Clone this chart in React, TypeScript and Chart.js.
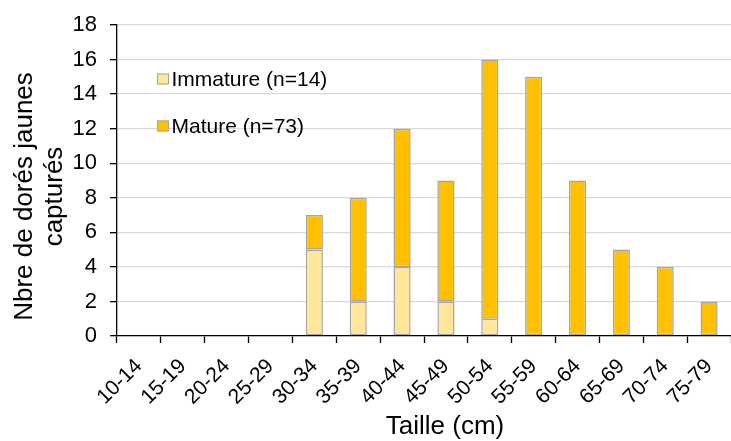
import React, { useEffect, useRef } from "react";
import { Chart, registerables } from "chart.js";

Chart.register(...registerables);

const categories = ["10-14", "15-19", "20-24", "25-29", "30-34", "35-39", "40-44", "45-49", "50-54", "55-59", "60-64", "65-69", "70-74", "75-79"];
const immature = [0, 0, 0, 0, 5, 2, 4, 2, 1, 0, 0, 0, 0, 0];
const mature = [0, 0, 0, 0, 2, 6, 8, 7, 15, 15, 9, 5, 4, 2];
const seriesLabels = ["Immature (n=14)", "Mature (n=73)"];
const seriesColors = ["#FFE699", "#FFC000"];
const yTitle = ["Nbre de dorés jaunes", "capturés"];
const xTitle = "Taille (cm)";

const FONT = "'Liberation Sans', Arial, sans-serif";

const annotationsPlugin = {
  id: "customText",
  afterDraw(chart: any) {
    const ctx = chart.ctx;
    ctx.save();
    // legend
    const items = [
      { label: seriesLabels[0], color: seriesColors[0], y: 79 },
      { label: seriesLabels[1], color: seriesColors[1], y: 126 },
    ];
    ctx.font = `21px ${FONT}`;
    ctx.textBaseline = "middle";
    ctx.textAlign = "left";
    for (const it of items) {
      ctx.fillStyle = it.color;
      ctx.fillRect(157, it.y - 5.5, 12, 11);
      ctx.strokeStyle = "#a6a6a6";
      ctx.lineWidth = 1;
      ctx.strokeRect(157.5, it.y - 5, 11, 10);
      ctx.fillStyle = "#000";
      ctx.fillText(it.label, 171.5, it.y + 1);
    }
    // x title
    ctx.font = `26px ${FONT}`;
    ctx.textAlign = "center";
    ctx.textBaseline = "alphabetic";
    ctx.fillText(xTitle, 445, 434);
    // y title
    const xs = [32, 62];
    yTitle.forEach((line, i) => {
      ctx.save();
      ctx.translate(xs[i], 196.5);
      ctx.rotate(-Math.PI / 2);
      ctx.fillText(line, 0, 0);
      ctx.restore();
    });
    ctx.restore();
  },
};

export default function App() {
  const ref = useRef<HTMLCanvasElement>(null);
  useEffect(() => {
    document.body.style.margin = "0";
    const toNull = (a: number[]) => a.map((v) => (v === 0 ? null : v));
    const common = {
      borderColor: "#a5a5a5",
      borderWidth: 1.5,
      borderSkipped: false,
      barPercentage: 0.39,
      categoryPercentage: 1,
    };
    const chart = new Chart(ref.current!, {
      type: "bar",
      data: {
        labels: categories,
        datasets: [
          { label: seriesLabels[0], data: toNull(immature) as any, backgroundColor: seriesColors[0], ...common },
          { label: seriesLabels[1], data: toNull(mature) as any, backgroundColor: seriesColors[1], ...common },
        ],
      },
      options: {
        responsive: false,
        animation: false,
        layout: { padding: { top: 25, right: 0, left: 0, bottom: 0 } },
        plugins: { legend: { display: false }, tooltip: { enabled: false } },
        scales: {
          x: {
            stacked: true,
            grid: { display: true, drawOnChartArea: false, offset: true, tickLength: 7, tickColor: "#000", tickWidth: 1.3 },
            border: { color: "#000", width: 1.3 },
            ticks: { font: { family: FONT, size: 21 }, color: "#000", minRotation: 45, maxRotation: 45, padding: 11, autoSkip: false },
            title: { display: false },
            afterFit: (s: any) => { s.height = 105; s.paddingLeft = 0; s.paddingRight = 0; },
          },
          y: {
            stacked: true,
            min: 0,
            max: 18,
            grid: { color: "#d9d9d9", lineWidth: 1.3, tickLength: 7, tickColor: "#000", tickWidth: 1.3 },
            border: { color: "#000", width: 1.3 },
            ticks: { stepSize: 2, font: { family: FONT, size: 22 }, color: "#000", padding: 13 },
            title: { display: false },
            afterFit: (s: any) => { s.width = 117; s.paddingTop = 0; s.paddingBottom = 0; },
          },
        },
      },
      plugins: [annotationsPlugin],
    });
    return () => chart.destroy();
  }, []);
  return <canvas ref={ref} width={731} height={441} style={{ display: "block" }} />;
}
